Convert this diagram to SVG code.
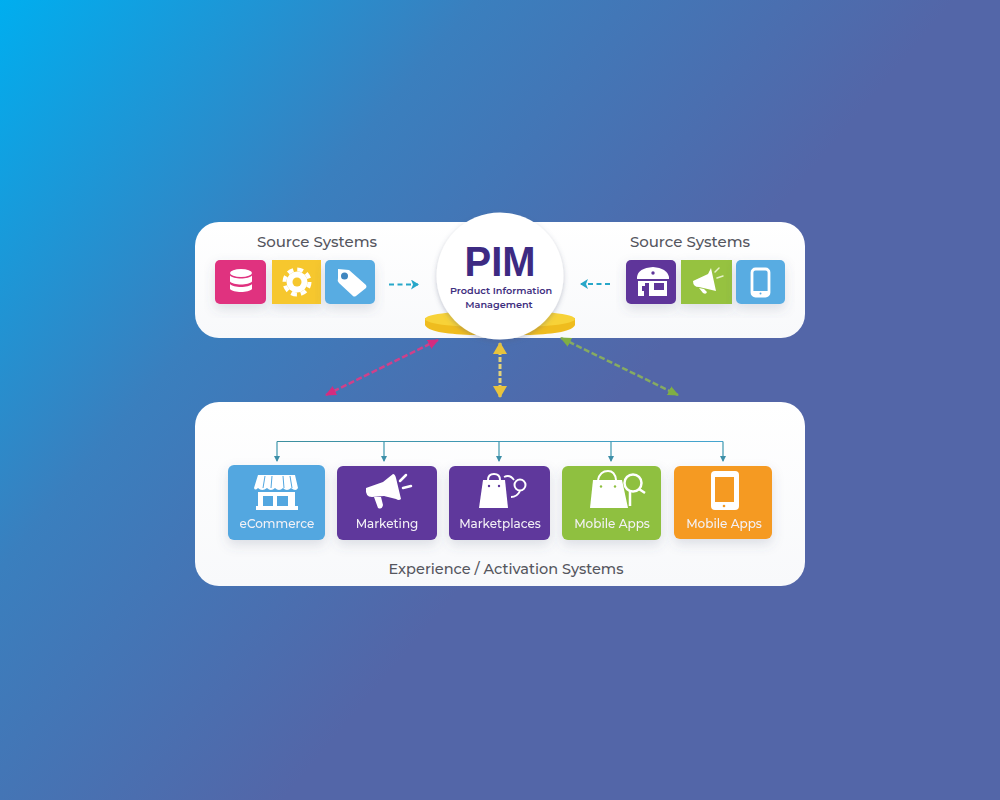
<svg xmlns="http://www.w3.org/2000/svg" width="1000" height="800" viewBox="0 0 1000 800">
<defs>
<linearGradient id="bg" gradientUnits="userSpaceOnUse" x1="0" y1="0" x2="560" y2="470"><stop offset="0" stop-color="#00aeef"/><stop offset="0.5" stop-color="#3a7fbe"/><stop offset="1" stop-color="#5366a8"/></linearGradient>
<linearGradient id="pf" x1="0" x2="0" y1="0" y2="1"><stop offset="0" stop-color="#ffffff"/><stop offset="1" stop-color="#f8f9fb"/></linearGradient>
<linearGradient id="treeg" gradientUnits="userSpaceOnUse" x1="277" y1="0" x2="723" y2="0"><stop offset="0" stop-color="#3d8f9e"/><stop offset="1" stop-color="#45a5d0"/></linearGradient>
<filter id="soft" x="-20%" y="-20%" width="140%" height="150%"><feDropShadow dx="0" dy="5" stdDeviation="6" flood-color="#54607c" flood-opacity="0.18"/></filter>
<filter id="circ" x="-20%" y="-20%" width="140%" height="140%"><feDropShadow dx="0" dy="2" stdDeviation="2.5" flood-color="#54607c" flood-opacity="0.35"/></filter>
<marker id="mc" markerWidth="9" markerHeight="10" refX="7" refY="5" orient="auto" markerUnits="userSpaceOnUse"><path d="M0 0L8 5L0 10L2 5Z" fill="#27a7c9"/></marker>
<marker id="mt" markerWidth="7" markerHeight="6" refX="5" refY="3" orient="auto" markerUnits="userSpaceOnUse"><path d="M0 0L6 3L0 6Z" fill="#3d8fa8"/></marker>
<marker id="mp" markerWidth="12" markerHeight="12" refX="10" refY="6" orient="auto-start-reverse" markerUnits="userSpaceOnUse"><path d="M0 1L11 6L0 11Z" fill="#d42c7f"/></marker>
<marker id="my" markerWidth="14" markerHeight="14" refX="11" refY="7" orient="auto-start-reverse" markerUnits="userSpaceOnUse"><path d="M0 0L12 7L0 14Z" fill="#e8c33c"/></marker>
<marker id="mg" markerWidth="12" markerHeight="12" refX="10" refY="6" orient="auto-start-reverse" markerUnits="userSpaceOnUse"><path d="M0 1L11 6L0 11Z" fill="#7fae44"/></marker>
</defs>
<style>
text{font-family:"Montserrat","Inter","Liberation Sans",sans-serif}
.panel{fill:url(#pf)}
.h{font-size:15px;font-weight:500;fill:#55565e;text-anchor:middle}
.l{font-size:12px;font-weight:500;fill:#f3f1f6;text-anchor:middle}
.i{fill:#fff}
.is{fill:none;stroke:#fff;stroke-width:2.5;stroke-linecap:round}
.tree{fill:none;stroke:url(#treeg);stroke-width:1.2}
.st{fill:none;stroke:#3d97ad;stroke-width:1.2}
</style>
<rect width="1000" height="800" fill="url(#bg)"/>
<g id="panel-top"><rect class="panel" x="195" y="222" width="610" height="116" rx="24"/></g>
<g id="panel-bottom"><rect class="panel" x="195" y="402" width="610" height="184" rx="24"/></g>

<g id="source-db" filter="url(#soft)"><rect x="215" y="260" width="51" height="44" rx="5" fill="#e0307f"/>
<ellipse class="i" cx="241" cy="273" rx="11" ry="4"/><path class="i" d="M230 275.500c3 4 19 4 22 0v6c-3 4-19 4-22 0zM230 284c3 4 19 4 22 0v5c-3 4-19 4-22 0z"/></g>
<g id="source-gear" filter="url(#soft)"><rect x="272" y="260" width="49" height="44" fill="#f6c72d"/>
<circle cx="297" cy="282" r="10.500" fill="#fff"/><circle cx="297" cy="282" r="12.500" fill="none" stroke="#fff" stroke-width="4" stroke-dasharray="5.800 4"/><circle cx="297" cy="282" r="4.500" fill="#f6c72d"/></g>
<g id="source-tag" filter="url(#soft)"><rect x="325" y="260" width="50" height="44" rx="5" fill="#58ace2"/>
<path class="i" d="M338 269L349 270L366 285Q367 287 366 288L356 296Q354 297 353 296L339 283Q337 281 338 278Z"/><circle cx="344.500" cy="276" r="3.500" fill="#3f86bf"/></g>

<g id="source-store" filter="url(#soft)"><rect x="626" y="260" width="50" height="44" rx="5" fill="#5e359a"/>
<path class="i" d="M637 277Q638 268 653 267Q667 268 669 277V279H637Z"/><rect class="i" x="638" y="281" width="29" height="15"/><path d="M642 286H645V283H649V296H644V291H642Z" fill="#5e359a"/><rect x="654" y="283" width="10" height="7" fill="#5e359a"/><circle cx="653" cy="273" r="1.700" fill="#5e359a"/></g>
<g id="source-mega" filter="url(#soft)"><rect x="681" y="260" width="51" height="44" fill="#96c23f"/>
<path class="i" d="M693 281L708 274L711 268L716 291L699 287Q693 287 693 281ZM699 288L704 289L707 292Q706 295 703 293Z"/><path d="M715 272L719 268M717 278L723 276" stroke="#e6f2c8" stroke-width="1.500" fill="none" stroke-linecap="round"/></g>
<g id="source-phone" filter="url(#soft)"><rect x="736" y="260" width="49" height="44" rx="5" fill="#58ace2"/>
<rect x="752" y="269" width="17" height="27" rx="3.500" fill="#58ace2" stroke="#fff" stroke-width="2.800"/><rect x="752" y="291" width="17" height="5" fill="#fff"/><circle cx="760.500" cy="293.500" r="1" fill="#58ace2"/></g>

<g id="connectors">
<line x1="389" y1="284.500" x2="418" y2="284.500" stroke="#27a7c9" stroke-width="2.200" stroke-dasharray="5 3.500" marker-end="url(#mc)"/>
<line x1="610" y1="284" x2="581" y2="284" stroke="#27a7c9" stroke-width="2.200" stroke-dasharray="5 3.500" marker-end="url(#mc)"/>
<line x1="438" y1="340" x2="326" y2="395" stroke="#d0408a" stroke-width="2.500" stroke-dasharray="6 2.500" marker-start="url(#mp)" marker-end="url(#mp)"/>
<line x1="500" y1="343" x2="500" y2="397" stroke="#e2d27a" stroke-width="3" stroke-dasharray="5 2" marker-start="url(#my)" marker-end="url(#my)"/>
<line x1="561" y1="338" x2="678" y2="395" stroke="#86ab62" stroke-width="2.500" stroke-dasharray="6 2.500" marker-start="url(#mg)" marker-end="url(#mg)"/>
<path class="st" d="M277 441.500V461" marker-end="url(#mt)"/>
<path class="tree" d="M277 441.500H723"/>
<path class="st" stroke="#45a5d0" d="M723 441.500V461" marker-end="url(#mt)"/>
<path class="st" d="M384 441.500V461" marker-end="url(#mt)"/>
<path class="st" d="M499 441.500V461" marker-end="url(#mt)"/>
<path class="st" d="M611 441.500V461" marker-end="url(#mt)"/>
</g>

<g id="pim">
<path d="M425 318V325C427 331 445 334 470 335H530C555 334 573 331 575 325V318Z" fill="#efbc1e"/>
<ellipse cx="500" cy="319" rx="75" ry="9" fill="#f7d238"/>
<circle cx="500" cy="276" r="63.500" fill="#fff" filter="url(#circ)"/>
<text x="500" y="276" font-size="43" font-weight="700" fill="#3d2a82" text-anchor="middle" textLength="71" lengthAdjust="spacingAndGlyphs" style="font-family:'Liberation Sans',sans-serif">PIM</text>
<text x="501" y="294" font-size="9.700" font-weight="600" fill="#3f2f80" text-anchor="middle">Product Information</text>
<text x="499" y="308" font-size="9.700" font-weight="600" fill="#3f2f80" text-anchor="middle">Management</text>
</g>

<text class="h" x="317" y="247">Source Systems</text>
<text class="h" x="690" y="247">Source Systems</text>

<g id="ecommerce" filter="url(#soft)"><rect x="228" y="465" width="97" height="75" rx="6" fill="#52a7e0"/>
<path class="i" d="M258 475H295L298 488Q296 492 291 488Q287 492 283 488Q279 492 275 488Q271 492 267 488Q262 492 258 488Q255 491 254 488Z"/><path d="M265 476L263 488M272 476L271 488M283 476L284 488M290 476L292 488" stroke="#52a7e0" stroke-width="1"/><path class="i" d="M258 492H295V506H298V510H256V506H258Z"/><rect x="263" y="496" width="10" height="10" fill="#52a7e0"/><rect x="277" y="496" width="11" height="10" fill="#52a7e0"/>
<text class="l" x="277" y="528">eCommerce</text></g>
<g id="marketing" filter="url(#soft)"><rect x="337" y="466" width="100" height="74" rx="6" fill="#5f379c"/>
<path class="i" d="M366 488L383 482L393 474Q395 474 396 478L401 499Q399 501 396 499L384 496L372 497Q365 497 366 488ZM374 497L381 497L383 505Q382 510 378 508Z"/><path class="is" d="M400 481L406 475M403 488L411 486"/>
<text class="l" x="387" y="528">Marketing</text></g>
<g id="marketplaces" filter="url(#soft)"><rect x="449" y="466" width="101" height="74" rx="6" fill="#5f379c"/>
<path class="i" d="M483 480H505L508 508H479Z"/><path d="M488 480Q488 474 494 474Q500 474 500 480" fill="none" stroke="#fff" stroke-width="2"/><circle cx="489" cy="486" r="1.200" fill="#5f379c"/><circle cx="499" cy="486" r="1.200" fill="#5f379c"/>
<circle cx="520" cy="485" r="5.500" fill="none" stroke="#fff" stroke-width="2"/><path d="M504 477Q510 474 514 480M511 497Q517 497 520 491" fill="none" stroke="#fff" stroke-width="1.800"/>
<text class="l" x="500" y="528">Marketplaces</text></g>
<g id="mobile-search" filter="url(#soft)"><rect x="562" y="466" width="99" height="74" rx="6" fill="#8fc03f"/>
<path class="i" d="M593 480H622L628 508H590Z"/><path d="M598 480Q600 471 608 471Q615 471 616 480" fill="none" stroke="#fff" stroke-width="2"/><circle cx="601" cy="486.500" r="1.200" fill="#8fc03f"/><circle cx="615" cy="486.500" r="1.200" fill="#8fc03f"/>
<circle cx="633" cy="483" r="8.500" fill="#8fc03f" stroke="#fff" stroke-width="2.500"/><path d="M639 489L645 493M630 492V506" stroke="#fff" stroke-width="2.500" fill="none"/>
<text class="l" x="612" y="528">Mobile Apps</text></g>
<g id="mobile-phone" filter="url(#soft)"><rect x="674" y="466" width="98" height="73" rx="6" fill="#f59a23"/>
<rect x="711" y="471" width="28" height="39" rx="4" fill="#fff"/><rect x="715" y="477" width="19" height="25" fill="#f59a23"/><circle cx="724" cy="506" r="1.300" fill="#f59a23"/>
<text class="l" x="724" y="528">Mobile Apps</text></g>

<text class="h" x="506" y="574" style="font-size:14.500px">Experience / Activation Systems</text>
</svg>
